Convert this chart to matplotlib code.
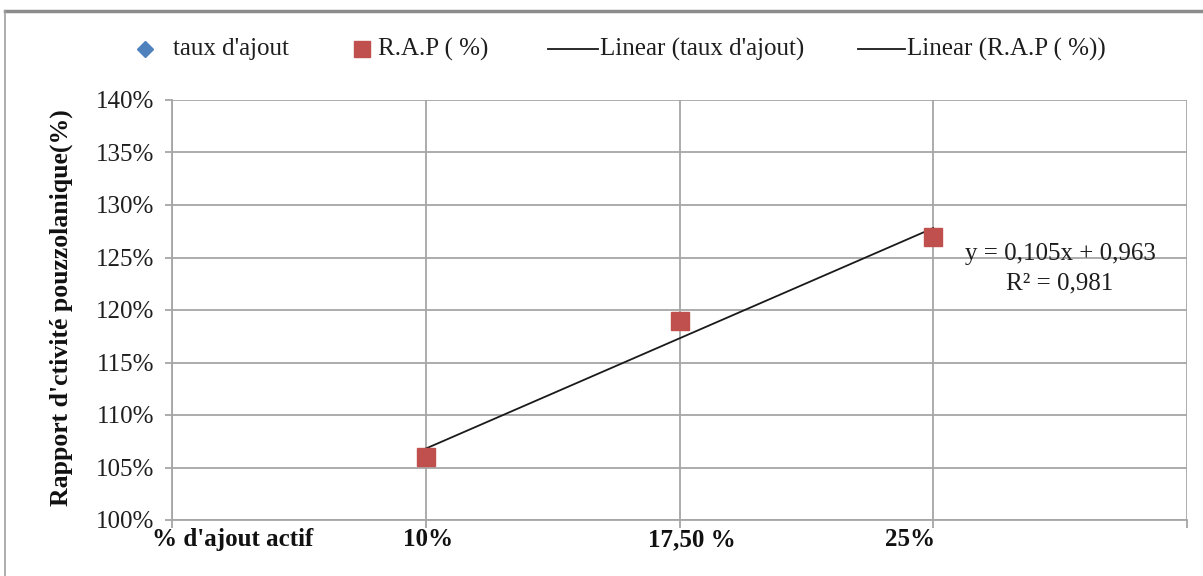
import matplotlib
matplotlib.use("Agg")
import matplotlib.pyplot as plt
from matplotlib.lines import Line2D
import numpy as np

# Data
x_pos = [1, 2, 3]
rap_values = [1.06, 1.19, 1.27]          # R.A.P (%) as fractions
slope, intercept = 0.105, 0.963           # linear trend of R.A.P
r_squared = 0.981
x_labels = ["% d'ajout actif", "10%", "17,50 %", "25%"]
y_ticks = [1.00, 1.05, 1.10, 1.15, 1.20, 1.25, 1.30, 1.35, 1.40]
legend_names = ["taux d'ajout", "R.A.P ( %)", "Linear (taux d'ajout)", "Linear (R.A.P ( %))"]

SERIF = ["Liberation Serif", "DejaVu Serif"]
RED = "#C0504D"
BLUE = "#4F81BD"
GRID = "#A6A6A6"
TXT = "#1e1e1e"
W, H = 1203, 576

fig = plt.figure(figsize=(W / 100, H / 100), dpi=100)
ax = fig.add_axes([172 / W, 1 - 520 / H, 1015 / W, 420 / H])

# trend line
xt = np.array([x_pos[0], x_pos[-1]])
ax.plot(xt, slope * xt + intercept, color="#1a1a1a", lw=1.3, zorder=3)
# data markers
ax.plot(x_pos, rap_values, ls="none", marker="s", ms=13.5,
        color=RED, mec=RED, zorder=4)

ax.set_xlim(0, 4)
ax.set_ylim(1.0, 1.4)
ax.set_yticks(y_ticks)
ax.set_yticklabels([f"{int(round(v * 100))}%" for v in y_ticks],
                   fontsize=18, family=SERIF, color=TXT)

# gridlines on major ticks, category labels on minor ticks
ax.set_xticks([0, 1, 2, 3, 4])
ax.set_xticklabels([])
ax.set_xticks([0.24, 1.01, 2.05, 2.91], minor=True)
ax.set_xticklabels(x_labels, minor=True, fontsize=18, family=SERIF,
                   fontweight="bold", color="#111111")
ax.tick_params(axis="x", which="minor", length=0, pad=6)
ax.tick_params(axis="x", which="major", length=6, color=GRID, width=1.3)
ax.tick_params(axis="y", length=5, color=GRID, width=1.3, pad=8)

ax.grid(True, which="major", color=GRID, lw=1.3)
for side in ["top", "right"]:
    ax.spines[side].set_visible(False)
for side in ["left", "bottom"]:
    ax.spines[side].set_color(GRID)
    ax.spines[side].set_linewidth(1.3)

ax.set_ylabel("Rapport d'ctivité pouzzolanique(%)", fontsize=18.5,
              family=SERIF, fontweight="bold", color="#111111")
ax.yaxis.set_label_coords(-0.098, 0.505)

# trend equation
ax.text(3.50, 1.253, f"y = {slope:.3f}x + {intercept:.3f}".replace(".", ","),
        fontsize=18, family=SERIF, ha="center", va="center", color=TXT)
ax.text(3.50, 1.225, f"R² = {r_squared:.3f}".replace(".", ","),
        fontsize=18, family=SERIF, ha="center", va="center", color=TXT)

# legend row drawn in figure pixel coordinates
def px(x, y):
    return x / W, 1 - y / H

ly = 49
fig.add_artist(Line2D(*zip(px(145, ly)), ls="none", marker="D", ms=8.5,
                      color=BLUE, transform=fig.transFigure))
fig.add_artist(Line2D(*zip(px(362, ly)), ls="none", marker="s", ms=12,
                      color=RED, transform=fig.transFigure))
for x0, x1 in [(548, 598), (858, 905)]:
    (ax0, ay), (ax1, _) = px(x0, ly), px(x1, ly)
    fig.add_artist(Line2D([ax0, ax1], [ay, ay], color="#1a1a1a", lw=1.3,
                          transform=fig.transFigure))
for name, xs in zip(legend_names, [173, 378, 600, 907]):
    fig.text(*px(xs, ly), name, fontsize=18, family=SERIF, color=TXT,
             ha="left", va="center")

# chart frame (top and left edges visible)
fig.add_artist(Line2D([5 / W, 1.0], [1 - 11 / H] * 2, transform=fig.transFigure,
                      color="#8c8c8c", lw=2.5))
fig.add_artist(Line2D([5 / W] * 2, [0, 1 - 11 / H], transform=fig.transFigure,
                      color="#a0a0a0", lw=1.2))

fig.savefig("out.png", dpi=100, facecolor="white")
